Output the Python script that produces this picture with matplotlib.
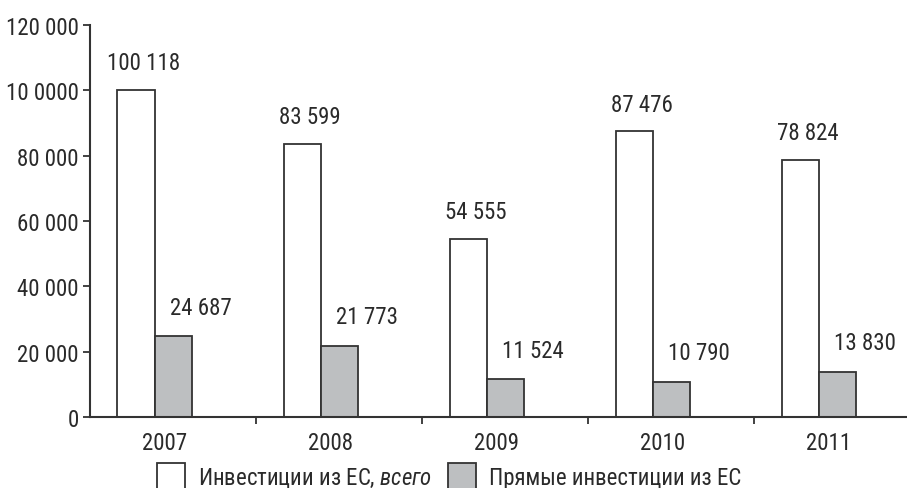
import matplotlib
matplotlib.use("Agg")
import matplotlib.pyplot as plt
import numpy as np
from matplotlib.patches import Patch

years = ["2007", "2008", "2009", "2010", "2011"]
total_eu = [100118, 83599, 54555, 87476, 78824]
direct_eu = [24687, 21773, 11524, 10790, 13830]
value_labels_total = ["100 118", "83 599", "54 555", "87 476", "78 824"]
value_labels_direct = ["24 687", "21 773", "11 524", "10 790", "13 830"]
y_ticks = [0, 20000, 40000, 60000, 80000, 100000, 120000]
y_tick_labels = ["0", "20 000", "40 000", "60 000", "80 000", "10 0000", "120 000"]

fonts = ["Liberation Sans Narrow", "Roboto Condensed", "Open Sans Condensed",
         "Liberation Sans", "DejaVu Sans"]
plt.rcParams["font.family"] = fonts
plt.rcParams["mathtext.fontset"] = "custom"
plt.rcParams["mathtext.it"] = "Roboto Condensed:italic"
plt.rcParams["mathtext.rm"] = "Roboto Condensed"

edge = "#333333"
gray = "#bdbfc1"
txt = "#2a2a2a"
fs = 16.5

fig = plt.figure(figsize=(9.07, 4.89), dpi=100)
ax = fig.add_axes([90 / 907, 1 - 418 / 489, 1 - 90 / 907, (418 - 26) / 489])

x = np.arange(len(years))
w = 0.223
ax.bar(x - 1.5 * w, total_eu, width=w, align="edge", color="white", edgecolor=edge, linewidth=1.3)
ax.bar(x - 0.5 * w, direct_eu, width=w, align="edge", color=gray, edgecolor=edge, linewidth=1.3)

# value labels, shifted up and to the right of each bar
for i in range(len(years)):
    ax.annotate(value_labels_total[i], (x[i] - w, total_eu[i]), xytext=(8, 27),
                textcoords="offset pixels", ha="center", va="center", fontsize=fs, color=txt)
    ax.annotate(value_labels_direct[i], (x[i], direct_eu[i]), xytext=(28, 29),
                textcoords="offset pixels", ha="center", va="center", fontsize=fs, color=txt)

ax.set_xlim(-0.5, 4.42)
ax.set_ylim(0, 120000)
ax.set_yticks(y_ticks)
ax.set_yticklabels(y_tick_labels, fontsize=fs, color=txt)
ax.set_xticks(x[:-1] + 0.5)
ax.set_xticklabels([])
ax.set_xticks(x - 0.05, minor=True)
ax.set_xticklabels(years, minor=True, fontsize=fs, color=txt)
ax.tick_params(axis="x", which="minor", length=0, pad=10)
ax.tick_params(axis="x", which="major", length=5, width=1.3, color=edge, direction="out")
ax.tick_params(axis="y", length=5, width=1.3, color=edge, pad=3)

for s in ["top", "right"]:
    ax.spines[s].set_visible(False)
for s in ["left", "bottom"]:
    ax.spines[s].set_color(edge)
    ax.spines[s].set_linewidth(1.5)

handles = [Patch(facecolor="white", edgecolor=edge, linewidth=1.3),
           Patch(facecolor=gray, edgecolor=edge, linewidth=1.3)]
labels = ["Инвестиции из ЕС, $\\it{всего}$", "Прямые инвестиции из ЕС"]
fig.legend(handles, labels, loc="upper left", bbox_to_anchor=(157 / 907, 1 - 464 / 489),
           ncol=2, frameon=False, fontsize=fs, handlelength=1.22, handleheight=1.35,
           handletextpad=0.57, columnspacing=0.7, borderpad=0, borderaxespad=0,
           labelcolor=txt)

fig.savefig("out.png", dpi=100)
